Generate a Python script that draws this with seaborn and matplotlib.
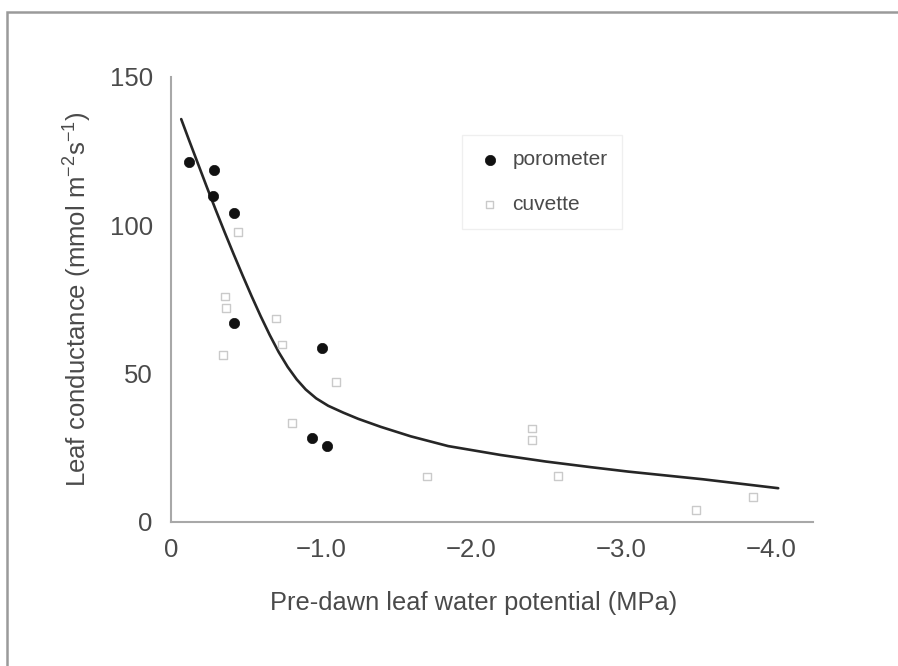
import matplotlib
matplotlib.use("Agg")
import matplotlib.pyplot as plt
from matplotlib.patches import Rectangle
import pandas as pd
import seaborn as sns

# Porometer measurements (pre-dawn water potential, MPa; conductance, mmol m-2 s-1)
poro_psi = [-0.12, -0.29, -0.28, -0.42, -0.42, -1.01, -0.94, -1.04]
poro_g = [121.4, 118.5, 110.0, 104.0, 67.0, 58.5, 28.1, 25.6]

# Cuvette measurements
cuv_psi = [-0.45, -0.36, -0.37, -0.35, -0.70, -0.74, -1.10, -0.81,
           -1.71, -2.41, -2.41, -2.58, -3.50, -3.88]
cuv_g = [97.8, 76.0, 72.0, 56.2, 68.6, 59.8, 47.2, 33.2,
         15.2, 31.5, 27.6, 15.5, 4.0, 8.4]

# Fitted response curve
fit_psi = [-0.07, -0.12, -0.18, -0.24, -0.30, -0.36, -0.42, -0.48, -0.54,
           -0.60, -0.66, -0.72, -0.78, -0.84, -0.90, -0.97, -1.05, -1.15,
           -1.25, -1.40, -1.60, -1.85, -2.20, -2.50, -2.80, -3.05, -3.30,
           -3.55, -3.80, -4.05]
fit_g = [135.8, 129.0, 121.0, 113.0, 105.2, 97.6, 90.2, 83.0, 76.0,
         69.3, 63.0, 57.2, 52.2, 48.0, 44.6, 41.6, 39.1, 36.8,
         34.7, 32.0, 28.8, 25.5, 22.5, 20.3, 18.4, 16.9, 15.6,
         14.3, 12.8, 11.3]

x_ticks = [0, -0.5, -1.0, -1.5, -2.0, -2.5, -3.0, -3.5, -4.0]
x_ticklabels = ["0", "", "\u22121.0", "", "\u22122.0", "", "\u22123.0", "", "\u22124.0"]
y_ticks = [0, 25, 50, 75, 100, 125, 150]
y_ticklabels = ["0", "", "50", "", "100", "", "150"]

sns.set_style("white")
plt.rcParams["font.family"] = ["Liberation Sans", "DejaVu Sans"]

txt = "#4a4a4a"
spine_c = "#a8a8a8"

fig = plt.figure(figsize=(8.98, 6.66), dpi=100)
ax = fig.add_axes([170.7 / 898, 1 - 521.7 / 666, (813 - 170.7) / 898, (521.7 - 77) / 666])

poro = pd.DataFrame({"psi": poro_psi, "g": poro_g})
cuv = pd.DataFrame({"psi": cuv_psi, "g": cuv_g})
fit = pd.DataFrame({"psi": fit_psi, "g": fit_g})

sns.lineplot(data=fit, x="psi", y="g", ax=ax, color="#262626", lw=1.9,
             sort=False, legend=False)
sns.scatterplot(data=cuv, x="psi", y="g", ax=ax, marker="s", s=30,
                facecolor="none", edgecolor="#cacaca", linewidth=1.0,
                label="cuvette", zorder=3)
sns.scatterplot(data=poro, x="psi", y="g", ax=ax, marker="o", s=55,
                color="#111111", edgecolor="#111111", linewidth=0.5,
                label="porometer", zorder=4)

ax.set_xlim(0, -4.282)
ax.set_ylim(0, 150)
ax.set_xticks(x_ticks)
ax.set_xticklabels(x_ticklabels)
ax.set_yticks(y_ticks)
ax.set_yticklabels(y_ticklabels)

for side in ("top", "right"):
    ax.spines[side].set_visible(False)
for side in ("left", "bottom"):
    ax.spines[side].set_color(spine_c)
    ax.spines[side].set_linewidth(1.5)

ax.tick_params(axis="both", direction="in", length=13, width=1.3,
               color=spine_c, labelcolor=txt, labelsize=18.5)
ax.tick_params(axis="x", pad=12)
ax.tick_params(axis="y", pad=13)

ax.set_xlabel("Pre-dawn leaf water potential (MPa)", fontsize=18.3,
              color=txt, labelpad=22)
ax.xaxis.set_label_coords((474 - 170.7) / (813 - 170.7), -0.155)
ax.set_ylabel("Leaf conductance (mmol m$^{\\mathregular{-2}}$s$^{\\mathregular{-1}}$)",
              fontsize=18.5, color=txt, labelpad=12)

handles, labels = ax.get_legend_handles_labels()
order = [labels.index("porometer"), labels.index("cuvette")]
leg = ax.legend([handles[i] for i in order], [labels[i] for i in order],
                loc="upper left", bbox_to_anchor=(452 / 898, 1 - 125 / 666),
                bbox_transform=fig.transFigure, fontsize=15, frameon=True,
                fancybox=False, edgecolor="#ececec", handletextpad=0.5,
                labelspacing=1.25, borderpad=0.7, handlelength=1.2)
for t in leg.get_texts():
    t.set_color(txt)

# Outer border of the figure panel
fig.patches.append(Rectangle((7 / 898, -0.01), 1.02, 1 - 12 / 666 + 0.01,
                             transform=fig.transFigure, fill=False,
                             edgecolor="#9a9a9a", linewidth=1.8))

fig.savefig("out.png", dpi=100, facecolor="white")
